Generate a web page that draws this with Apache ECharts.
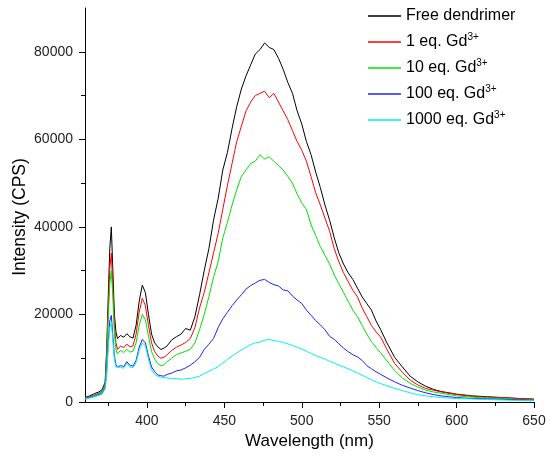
<!DOCTYPE html>
<html>
<head>
<meta charset="utf-8">
<script src="https://cdn.jsdelivr.net/npm/echarts@6/dist/echarts.min.js"></script>
<style>
html, body { margin: 0; padding: 0; background: #fff; }
#chart { width: 550px; height: 457px; }
</style>
</head>
<body>
<div id="chart"></div>
<script>
// 波长 (nm)
var wavelength = [360, 363, 366, 369, 371, 372, 373, 374, 375, 376, 377, 378, 379, 380, 381, 383, 385, 387, 389, 391,
  393, 395, 397, 399, 401, 403, 405, 407, 409, 411, 413, 416, 419, 422, 425, 428, 431, 434, 437, 440,
  443, 446, 449, 452, 455, 458, 461, 464, 467, 470, 473, 476, 479, 482, 485, 488, 491, 494, 497, 500,
  503, 506, 509, 512, 515, 518, 521, 524, 527, 530, 533, 536, 539, 542, 545, 548, 551, 555, 560, 565,
  570, 575, 580, 585, 590, 600, 610, 620, 630, 640, 650];

var freeDendrimer = [1000, 1400, 1900, 2300, 2800, 3200, 4500, 12000, 24000, 35000, 40000, 30000, 20000, 16000, 14500, 15200, 14800, 15600, 14900, 14600,
  17500, 23000, 26700, 25000, 20000, 15500, 13500, 12600, 12000, 12300, 12800, 14200, 14900, 15500, 16800, 16400, 19500, 24500, 30000, 35000,
  41500, 46500, 53000, 57000, 62500, 67500, 71500, 74500, 77000, 79500, 80500, 82000, 81000, 80500, 78500, 76000, 73000, 70500, 66500, 63500,
  59500, 56500, 52500, 49000, 45000, 41500, 37500, 34000, 31500, 29500, 28000, 26000, 24000, 22500, 21000, 18500, 16500, 13500, 10200, 8000,
  5900, 4600, 3600, 2900, 2400, 1800, 1400, 1200, 1000, 800, 600];

var eq1 = [900, 1200, 1600, 2000, 2500, 2900, 4000, 10500, 21000, 30500, 34000, 26000, 17500, 13500, 12000, 12800, 12400, 13200, 12600, 12800,
  15500, 20500, 23700, 22000, 17500, 13500, 11500, 10500, 10000, 10200, 10800, 11800, 12500, 13000, 13600, 14500, 17000, 21500, 25000, 29500,
  34000, 38500, 44000, 49500, 54500, 59500, 63000, 66500, 68500, 70000, 70500, 71000, 69500, 70500, 68500, 66500, 64500, 62000, 59500, 57500,
  55000, 51500, 47800, 45000, 42000, 39000, 35000, 32000, 29500, 27500, 25500, 24000, 21500, 19500, 17500, 16000, 14800, 12000, 8800, 6800,
  5000, 3900, 3100, 2700, 2300, 1700, 1300, 1100, 1000, 800, 700];

var eq10 = [800, 1100, 1500, 1900, 2300, 2700, 3800, 9500, 19000, 27000, 30000, 24000, 15500, 12000, 11000, 11800, 11300, 12000, 11400, 11600,
  13500, 17500, 20000, 18800, 15000, 11500, 9800, 8800, 8300, 8500, 9200, 10000, 10800, 11200, 11600, 12000, 13500, 16500, 20000, 24000,
  28500, 32000, 37500, 41000, 45000, 48500, 51500, 53000, 54500, 55000, 56500, 55500, 56000, 55000, 54000, 53000, 51500, 50000, 47500, 45500,
  44000, 40500, 38000, 35500, 33500, 31500, 29000, 27000, 25000, 23000, 21000, 19500, 17500, 15500, 13800, 12500, 11200, 9400, 7200, 5500,
  4300, 3400, 2700, 2300, 2000, 1400, 1100, 900, 800, 600, 500];

var eq100 = [700, 1000, 1300, 1700, 2000, 2400, 3200, 7000, 13500, 18500, 19800, 15000, 10500, 8500, 8000, 8300, 8100, 9200, 8400, 8200,
  9500, 12500, 14300, 13500, 10500, 8000, 6900, 6200, 6000, 5900, 6300, 6600, 7100, 7300, 7800, 8400, 9200, 10200, 12000, 13200,
  14500, 17000, 19000, 20500, 22000, 23300, 24500, 25800, 26600, 27200, 27800, 28000, 27300, 26800, 26500, 25600, 25400, 24200, 23300, 22500,
  21000, 19800, 18600, 17600, 16500, 15000, 14300, 13300, 12300, 11500, 10800, 10300, 9500, 8300, 7600, 6900, 6300, 5500, 4600, 3800,
  3200, 2600, 2100, 1700, 1400, 1000, 800, 700, 600, 500, 400];

var eq1000 = [700, 900, 1200, 1500, 1800, 2200, 3000, 6500, 12500, 17000, 18200, 14000, 9800, 8000, 7600, 7900, 7700, 8900, 8000, 7800,
  9000, 11800, 13500, 12800, 9800, 7300, 6300, 5900, 5700, 5600, 5500, 5300, 5400, 5200, 5300, 5400, 5600, 5900, 6500, 7000,
  7500, 8100, 8900, 9700, 10500, 11200, 11900, 12500, 13100, 13500, 13700, 14100, 14300, 14000, 13900, 13600, 13300, 12900, 12500, 12100,
  11600, 11100, 10600, 10200, 9800, 9300, 8900, 8400, 8000, 7600, 7100, 6600, 6100, 5600, 5100, 4600, 4200, 3700, 3100, 2600,
  2100, 1700, 1400, 1200, 1000, 800, 700, 550, 450, 350, 300];

var seriesNames = ['Free dendrimer', '1 eq. Gd3+', '10 eq. Gd3+', '100 eq. Gd3+', '1000 eq. Gd3+'];
var seriesColors = ['#000000', '#ff0000', '#00e000', '#2020ff', '#00f0f0'];
var seriesValues = [freeDendrimer, eq1, eq10, eq100, eq1000];

var xMajorTicks = [400, 450, 500, 550, 600, 650];
var xMinorTicks = [375, 425, 475, 525, 575, 625];
var yMajorTicks = [0, 20000, 40000, 60000, 80000];
var yMinorTicks = [10000, 30000, 50000, 70000];

var myChart = echarts.init(document.getElementById('chart'));

var series = [];
for (var i = 0; i < seriesValues.length; i++) {
  var pts = [];
  for (var j = 0; j < wavelength.length; j++) {
    pts.push([wavelength[j], seriesValues[i][j]]);
  }
  series.push({
    name: seriesNames[i],
    type: 'line',
    xAxisIndex: 0,
    yAxisIndex: 0,
    data: pts,
    symbol: 'none',
    showSymbol: false,
    lineStyle: { width: 1, color: seriesColors[i] },
    itemStyle: { color: seriesColors[i], borderWidth: 0 }
  });
}

var axisFont = 'Liberation Sans';
var lineCol = '#000';

myChart.setOption({
  animation: false,
  grid: { left: 85, right: 16, top: 8, bottom: 55, containLabel: false, outerBoundsMode: 'none' },
  legend: {
    orient: 'vertical',
    left: 363,
    top: 3,
    icon: 'rect',
    itemWidth: 33,
    itemHeight: 1.5,
    itemGap: 8.5,
    itemStyle: { borderWidth: 0 },
    data: seriesNames,
    textStyle: {
      fontFamily: axisFont,
      fontSize: 16,
      color: '#000',
      rich: {
        n: { fontFamily: axisFont, fontSize: 16, color: '#000', lineHeight: 19 },
        sup: { fontFamily: axisFont, fontSize: 10, color: '#000', lineHeight: 19, verticalAlign: 'top' }
      }
    },
    formatter: function (name) {
      var m = name.match(/^(.*Gd)3\+$/);
      if (m) {
        return '{n|' + m[1] + '}{sup|3+}';
      }
      return '{n|' + name + '}';
    }
  },
  xAxis: [{
    type: 'value',
    min: 360,
    max: 650,
    name: 'Wavelength (nm)',
    nameLocation: 'middle',
    nameGap: 31,
    nameMoveOverlap: false,
    nameTextStyle: { fontFamily: axisFont, fontSize: 17, color: '#000' },
    axisLine: { show: true, onZero: false, lineStyle: { color: lineCol, width: 1 } },
    axisTick: { show: true, inside: false, length: 6, customValues: xMajorTicks, lineStyle: { color: lineCol } },
    axisLabel: {
      show: true, margin: 12, customValues: xMajorTicks, fontFamily: axisFont, fontSize: 14, color: '#222',
      formatter: function (v) { return String(v); }
    },
    splitLine: { show: false }
  }, {
    type: 'value',
    min: 360,
    max: 650,
    position: 'bottom',
    axisLine: { show: false, onZero: false },
    axisTick: { show: true, inside: false, length: 4, customValues: xMinorTicks, lineStyle: { color: lineCol } },
    axisLabel: { show: false },
    splitLine: { show: false }
  }],
  yAxis: [{
    type: 'value',
    min: 0,
    max: 90000,
    name: 'Intensity (CPS)',
    nameLocation: 'middle',
    nameGap: 56,
    nameMoveOverlap: false,
    nameTextStyle: { fontFamily: axisFont, fontSize: 17.5, color: '#000', padding: [0, 24, 0, 0] },
    axisLine: { show: true, onZero: false, lineStyle: { color: lineCol, width: 1 } },
    axisTick: { show: true, inside: false, length: 6, customValues: yMajorTicks, lineStyle: { color: lineCol } },
    axisLabel: {
      show: true, margin: 12, customValues: yMajorTicks, fontFamily: axisFont, fontSize: 14, color: '#222',
      formatter: function (v) { return String(v); }
    },
    splitLine: { show: false }
  }, {
    type: 'value',
    min: 0,
    max: 90000,
    position: 'left',
    axisLine: { show: false, onZero: false },
    axisTick: { show: true, inside: false, length: 4, customValues: yMinorTicks, lineStyle: { color: lineCol } },
    axisLabel: { show: false },
    splitLine: { show: false }
  }],
  series: series
});
</script>
</body>
</html>
